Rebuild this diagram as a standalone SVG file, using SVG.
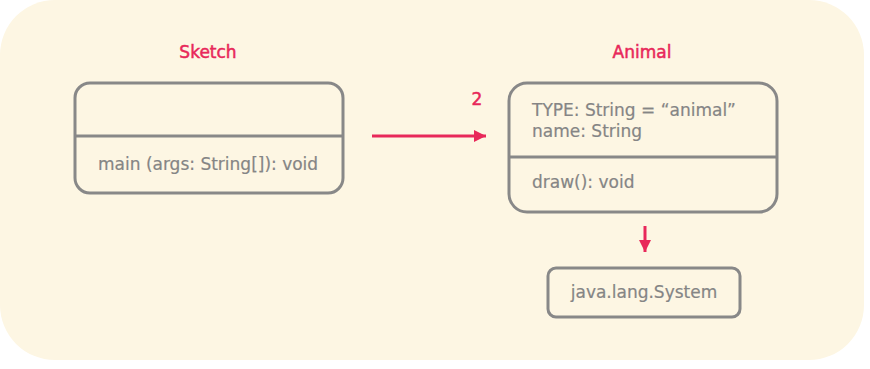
<svg xmlns="http://www.w3.org/2000/svg" width="870" height="369" viewBox="0 0 870 369">
  <defs>
    <style>
      .box { fill: none; stroke: #888888; stroke-width: 3; }
      .div { stroke: #888888; stroke-width: 3; }
      .title { font-family: "DejaVu Sans", "Noto Sans CJK KR", sans-serif; font-size: 17px; fill: #e8285a; stroke: #e8285a; stroke-width: 0.5; }
      .member { font-family: "DejaVu Sans", "Noto Sans CJK KR", sans-serif; font-size: 17px; fill: #858585; stroke: #858585; stroke-width: 0.2; }
      .conn { stroke: #e8285a; stroke-width: 3; fill: none; }
    </style>
    <marker id="head" viewBox="0 0 12 12" refX="12" refY="6" markerWidth="12" markerHeight="12" markerUnits="userSpaceOnUse" orient="auto">
      <path d="M0,0 L12,6 L0,12 Z" fill="#e8285a"/>
    </marker>
  </defs>

  <!-- backdrop -->
  <rect x="0" y="0" width="864" height="360" rx="55" ry="55" fill="#fdf6e3"/>

  <!-- Sketch class -->
  <g id="sketch">
    <text class="title" x="208" y="58" text-anchor="middle">Sketch</text>
    <rect class="box" x="75" y="83" width="268" height="110" rx="15" ry="15"/>
    <line class="div" x1="75" y1="136" x2="343" y2="136"/>
    <text class="member" x="98" y="170">main (args: String[]): void</text>
  </g>

  <!-- Animal class -->
  <g id="animal">
    <text class="title" x="642" y="58" text-anchor="middle">Animal</text>
    <rect class="box" x="509" y="83" width="268" height="129" rx="18" ry="18"/>
    <line class="div" x1="509" y1="157" x2="777" y2="157"/>
    <text class="member" x="532" y="116">TYPE: String = “animal”</text>
    <text class="member" x="532" y="137">name: String</text>
    <text class="member" x="532" y="188">draw(): void</text>
  </g>

  <!-- java.lang.System -->
  <g id="system">
    <rect class="box" x="548" y="268" width="192" height="49" rx="8" ry="8"/>
    <text class="member" x="644" y="298" text-anchor="middle">java.lang.System</text>
  </g>

  <!-- connectors -->
  <g id="connectors">
    <line class="conn" x1="372" y1="136" x2="486" y2="136" marker-end="url(#head)"/>
    <text class="title" x="477" y="105" text-anchor="middle">2</text>
    <line class="conn" x1="645" y1="226" x2="645" y2="252" marker-end="url(#head)"/>
  </g>
</svg>
